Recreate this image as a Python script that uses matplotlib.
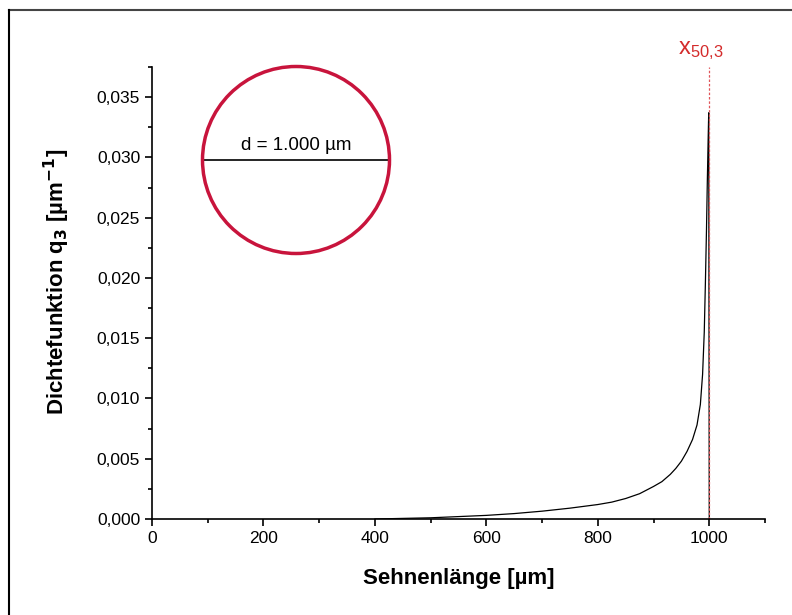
import matplotlib.pyplot as plt
from matplotlib.patches import Ellipse
from matplotlib.lines import Line2D
from matplotlib.ticker import FuncFormatter, MultipleLocator

plt.rcParams['font.family'] = ['Liberation Sans', 'DejaVu Sans']
plt.rcParams['mathtext.default'] = 'regular'

# Data
chord_length = [400, 450, 500, 550, 600, 650, 700, 750, 800, 825, 850, 875,
                900, 915, 930, 940, 950, 960, 970, 978, 984, 988, 991, 993,
                995, 996.5, 998, 999, 1000]
density_q3 = [0.0, 0.00005, 0.0001, 0.0002, 0.0003, 0.00045, 0.00065, 0.0009,
              0.0012, 0.0014, 0.0017, 0.0021, 0.0027, 0.0031, 0.0037, 0.0042,
              0.0048, 0.0056, 0.0066, 0.0078, 0.0095, 0.0120, 0.0155, 0.0195,
              0.0240, 0.0280, 0.0315, 0.0337, 0.0]
x50_3 = 1000

W, H = 792, 615
fig = plt.figure(figsize=(W / 100, H / 100), dpi=100)
ax = fig.add_axes([152 / W, 1 - 519 / H, (765 - 152) / W, (519 - 67) / H])

ax.plot(chord_length, density_q3, color='black', lw=0.9)
ax.axvline(x50_3, color='#e0555a', lw=0.9, ls=(0, (2, 1.5)))

ax.set_xlim(0, 1100)
ax.set_ylim(0, 0.0375)
ax.xaxis.set_major_locator(MultipleLocator(200))
ax.xaxis.set_minor_locator(MultipleLocator(100))
ax.yaxis.set_major_locator(MultipleLocator(0.005))
ax.yaxis.set_minor_locator(MultipleLocator(0.0025))
ax.yaxis.set_major_formatter(FuncFormatter(lambda v, p: f'{v:.3f}'.replace('.', ',')))
ax.set_xticks([0, 200, 400, 600, 800, 1000])

for s in ['top', 'right']:
    ax.spines[s].set_visible(False)
for s in ['left', 'bottom']:
    ax.spines[s].set_linewidth(1.2)
ax.tick_params(which='major', direction='out', length=5, width=1.2, labelsize=12.5)
ax.tick_params(which='minor', direction='out', length=3, width=1.2)

ax.set_xlabel('Sehnenlänge [µm]', fontsize=16, fontweight='bold', labelpad=16)
ax.set_ylabel(r'Dichtefunktion q$_\mathbf{3}$ [µm$^\mathbf{-1}$]', fontsize=16,
              fontweight='bold')
ax.yaxis.set_label_coords(-0.13, 0.525)

ax.text(x50_3 - 15, 1.01, r'x$_{50{,}3}$', transform=ax.get_xaxis_transform(),
        color='#d42b2b', fontsize=17, ha='center', va='bottom')

# circle sketch
cx, cy, r = 296, 160, 93.5
fig.patches.append(Ellipse((cx / W, 1 - cy / H), 2 * r / W, 2 * r / H,
                           transform=fig.transFigure, fill=False,
                           edgecolor='#c8143c', lw=2.5, zorder=5))
fig.lines.append(Line2D([(cx - r) / W, (cx + r) / W], [1 - cy / H, 1 - cy / H],
                        transform=fig.transFigure, color='black', lw=1.2))
fig.text(cx / W, 1 - 145 / H, 'd = 1.000 µm', fontsize=13.5, ha='center', va='center')

# outer frame (top and left)
fig.lines.append(Line2D([9 / W, 1], [1 - 10 / H, 1 - 10 / H],
                        transform=fig.transFigure, color='#444444', lw=1.5))
fig.lines.append(Line2D([9 / W, 9 / W], [0, 1 - 10 / H],
                        transform=fig.transFigure, color='black', lw=1.5))

fig.savefig('out.png', dpi=100)
